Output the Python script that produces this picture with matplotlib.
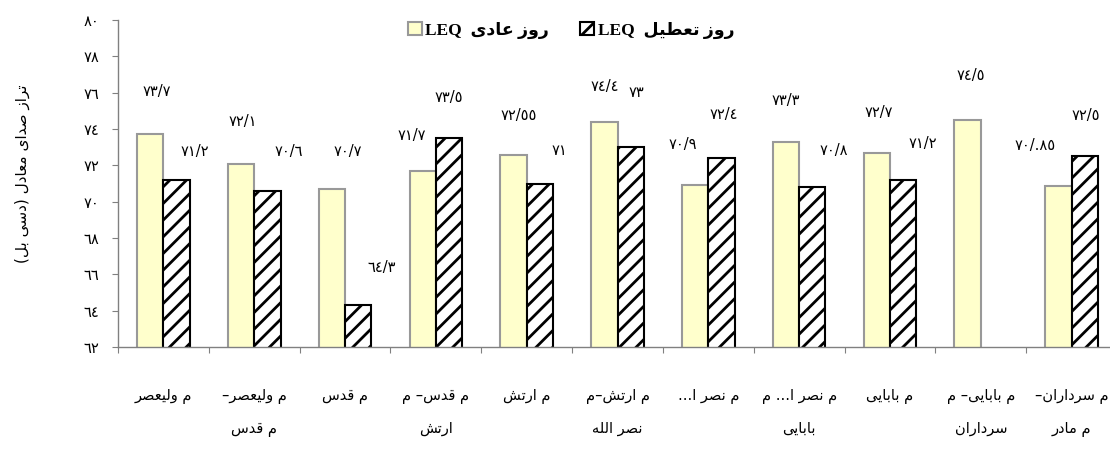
import numpy as np
import matplotlib
matplotlib.use('Agg')
import matplotlib.pyplot as plt
from matplotlib.patches import Patch

# data
categories = ["م وليعصر", "م وليعصر–\nم قدس", "م قدس", "م قدس– م\nارتش", "م ارتش",
              "م ارتش–م\nنصر الله", "م نصر ا...", "م نصر ا... م\nبابایی", "م بابایی",
              "م بابایی– م\nسرداران", "م سرداران–\nم مادر"]
normal_day = [73.7, 72.1, 70.7, 71.7, 72.55, 74.4, 70.9, 73.3, 72.7, 74.5, 70.85]
holiday = [71.2, 70.6, 64.3, 73.5, 71.0, 73.0, 72.4, 70.8, 71.2, np.nan, 72.5]
normal_labels = ["٧٣/٧", "٧٢/١", "٧٠/٧", "٧١/٧", "٧٢/٥٥", "٧٤/٤", "٧٠/٩", "٧٣/٣", "٧٢/٧", "٧٤/٥", "٧٠/.٨٥"]
holiday_labels = ["٧١/٢", "٧٠/٦", "٦٤/٣", "٧٣/٥", "٧١", "٧٣", "٧٢/٤", "٧٠/٨", "٧١/٢", "", "٧٢/٥"]
yticks = [62, 64, 66, 68, 70, 72, 74, 76, 78, 80]
ytick_labels = ["٦٢", "٦٤", "٦٦", "٦٨", "٧٠", "٧٢", "٧٤", "٧٦", "٧٨", "٨٠"]

# label offsets (pixels) from the top of each bar, as placed in the original
normal_dx = [7, 2, 16, -11, 5, 0, -12, 0, 2, 3, -23]
normal_dy = [43, 42, 37, 35, 40, 35, 41, 41, 40, 44, 41]
holiday_dx = [18, 21, 23, 0, 20, 6, 2, 21, 20, 0, 1]
holiday_dy = [28, 39, 38, 41, 33, 55, 44, 37, 36, 0, 41]

# small arabic shaper: matplotlib draws text left to right without joining
FORMS = {
    'ا': (0xFE8D, 0xFE8E), 'د': (0xFEA9, 0xFEAA), 'ر': (0xFEAD, 0xFEAE),
    'ز': (0xFEAF, 0xFEB0), 'و': (0xFEED, 0xFEEE),
    'ب': (0xFE8F, 0xFE90, 0xFE91, 0xFE92), 'ت': (0xFE95, 0xFE96, 0xFE97, 0xFE98),
    'س': (0xFEB1, 0xFEB2, 0xFEB3, 0xFEB4), 'ش': (0xFEB5, 0xFEB6, 0xFEB7, 0xFEB8),
    'ص': (0xFEB9, 0xFEBA, 0xFEBB, 0xFEBC), 'ط': (0xFEC1, 0xFEC2, 0xFEC3, 0xFEC4),
    'ع': (0xFEC9, 0xFECA, 0xFECB, 0xFECC), 'ق': (0xFED5, 0xFED6, 0xFED7, 0xFED8),
    'ل': (0xFEDD, 0xFEDE, 0xFEDF, 0xFEE0), 'م': (0xFEE1, 0xFEE2, 0xFEE3, 0xFEE4),
    'ن': (0xFEE5, 0xFEE6, 0xFEE7, 0xFEE8), 'ه': (0xFEE9, 0xFEEA, 0xFEEB, 0xFEEC),
    'ي': (0xFEF1, 0xFEF2, 0xFEF3, 0xFEF4), 'ی': (0xFEEF, 0xFEF0, 0xFEF3, 0xFEF4),
}
MIRROR = {'(': ')', ')': '('}


def shape_line(s):
    out = []
    i = 0
    while i < len(s):
        c = s[i]
        if c not in FORMS:
            out.append(MIRROR.get(c, c))
            i += 1
            continue
        prev = s[i - 1] if i > 0 else ''
        nxt = s[i + 1] if i + 1 < len(s) else ''
        p = prev in FORMS and len(FORMS[prev]) == 4
        if c == 'ل' and nxt == 'ا':
            out.append(chr(0xFEFC if p else 0xFEFB))
            i += 2
            continue
        f = FORMS[c]
        if len(f) == 2:
            out.append(chr(f[1] if p else f[0]))
        else:
            q = nxt in FORMS
            out.append(chr(f[3] if (p and q) else f[1] if p else f[2] if q else f[0]))
        i += 1
    return ''.join(reversed(out))


def fa(s):
    return '\n'.join(shape_line(l) for l in s.split('\n'))


plt.rcParams['font.family'] = ['DejaVu Sans']
plt.rcParams['hatch.linewidth'] = 2.0
plt.rcParams['hatch.color'] = 'black'

fig = plt.figure(figsize=(11.1, 4.53), dpi=100)
ax = fig.add_axes([118 / 1110, 106 / 453, 999 / 1110, 327 / 453])

x = np.arange(len(categories))
w = 0.29
b1 = ax.bar(x - w / 2, normal_day, w, color='#FFFFCC', edgecolor='#999999', linewidth=1.5)
b2 = ax.bar(x + w / 2, holiday, w, color='white', edgecolor='black', linewidth=1.5, hatch='//')

for i in range(len(categories)):
    ax.annotate(normal_labels[i], (x[i] - w / 2, normal_day[i]), xytext=(normal_dx[i], normal_dy[i]),
                textcoords='offset pixels', ha='center', va='center', fontsize=10.5)
    if holiday_labels[i]:
        ax.annotate(holiday_labels[i], (x[i] + w / 2, holiday[i]), xytext=(holiday_dx[i], holiday_dy[i]),
                    textcoords='offset pixels', ha='center', va='center', fontsize=10.5)

ax.set_xlim(-0.5, len(categories) - 0.5)
ax.set_ylim(62, 80)
ax.set_yticks(yticks)
ax.set_yticklabels(ytick_labels, fontsize=10.5)
ax.set_xticks(np.arange(len(categories) + 1) - 0.5)
ax.set_xticklabels([])
ax.set_xticks(x, minor=True)
ax.set_xticklabels([fa(c) for c in categories], minor=True, fontsize=10.5, linespacing=2.45)
ax.tick_params(axis='x', which='minor', length=0, pad=30)
ax.tick_params(axis='x', which='major', length=4.5, color='#808080', direction='out')
ax.tick_params(axis='y', length=4.5, color='#808080', direction='out', pad=9)

for side in ['top', 'right']:
    ax.spines[side].set_visible(False)
for side in ['left', 'bottom']:
    ax.spines[side].set_color('#808080')
    ax.spines[side].set_linewidth(1.0)

fig.text(22 / 1110, 1 - 174 / 453, fa("تراز صدای معادل (دسی بل)"), rotation=90,
         ha='center', va='center', fontsize=11)

handles = [Patch(facecolor='#FFFFCC', edgecolor='#999999', linewidth=1.5),
           Patch(facecolor='white', edgecolor='black', linewidth=1.5, hatch='//')]
labels = ["LEQ  " + fa("روز عادی"), "LEQ  " + fa("روز تعطیل")]
fig.legend(handles, labels, loc='center', bbox_to_anchor=(571 / 1110, 1 - 30 / 453), ncol=2,
           frameon=False, handlelength=0.8, handleheight=0.8, handletextpad=0.2, columnspacing=1.8,
           prop=dict(family=['Liberation Serif', 'DejaVu Sans'], weight='bold', size=12.5))

fig.savefig('out.png', dpi=100)
